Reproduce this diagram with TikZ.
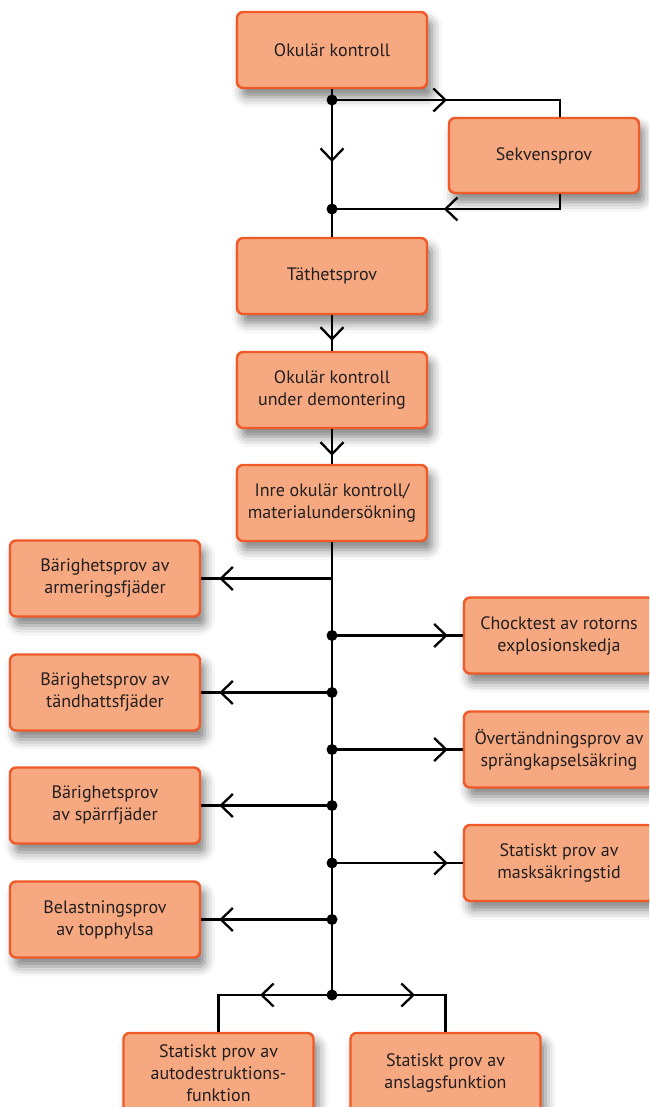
\documentclass[tikz,border=0pt]{standalone}
\usepackage{fontspec}
\setmainfont{PT Sans}
\usetikzlibrary{arrows.meta,decorations.markings,shadows.blur}
\definecolor{boxfill}{RGB}{246,168,128}
\definecolor{boxline}{RGB}{239,90,40}
\definecolor{ink}{RGB}{35,31,32}
\tikzset{
 box/.style={rectangle, rounded corners=6pt, draw=boxline, line width=2.4pt, fill=boxfill,
   minimum width=190pt, minimum height=76pt, align=center, text=ink,
   font=\fontsize{18}{22}\selectfont, inner sep=2pt,
   blur shadow={shadow xshift=5pt, shadow yshift=-9pt, shadow blur radius=10pt, shadow opacity=50}},
 conn/.style={line width=2.3pt, black},
 dot/.style={circle, fill=black, inner sep=0pt, minimum size=11pt},
 midarrow/.style={postaction={decorate}, decoration={markings,
   mark=at position #1 with {\arrow{Straight Barb[length=12pt,width=23pt,line width=2.3pt]}}}},
}
\begin{document}
\begin{tikzpicture}[x=1pt,y=-1pt]
\useasboundingbox (0,0) rectangle (649,1107);
\clip (0,0) rectangle (649,1107);
% boxes
\node[box] (ok) at (332,50) {Okulär kontroll};
\node[box, minimum height=75pt] (sek) at (544,155.5) {Sekvensprov};
\node[box] (tat) at (332,276) {Täthetsprov};
\node[box] (dem) at (332,390) {Okulär kontroll\\under demontering};
\node[box] (inre) at (332,503) {Inre okulär kontroll/\\materialundersökning};
\node[box] (L1) at (105,578.5) {Bärighetsprov av\\armeringsfjäder};
\node[box] (L2) at (105,692.5) {Bärighetsprov av\\tändhattsfjäder};
\node[box] (L3) at (105,805.5) {Bärighetsprov\\av spärrfjäder};
\node[box] (L4) at (105,919.5) {Belastningsprov\\av topphylsa};
\node[box] (R1) at (559,635.5) {Chocktest av rotorns\\explosionskedja};
\node[box] (R2) at (559,749.5) {Övertändningsprov av\\sprängkapselsäkring};
\node[box] (R3) at (559,863) {Statiskt prov av\\masksäkringstid};
\node[box, minimum height=80pt] (B1) at (218.5,1073) {Statiskt prov av\\autodestruktions-\\funktion};
\node[box, minimum height=80pt] (B2) at (445.5,1073) {Statiskt prov av\\anslagsfunktion};
% junctions
\coordinate (j1) at (332,100);
\coordinate (j2) at (332,209);
\coordinate (c1) at (560,100);
\coordinate (c2) at (560,209);
\coordinate (jb) at (332,995);
% top part
\draw[conn] (ok.south) -- (j1);
\draw[conn, midarrow=62pt] (j1) -- (j2);
\draw[conn] (j2) -- (tat.north);
\draw[conn, midarrow=115pt] (j1) -- (c1) -- (c1 |- sek.north);
\draw[conn, midarrow=131pt] (c2 |- sek.south) -- (c2) -- (j2);
\draw[conn, midarrow=-10pt] (tat.south) -- (dem.north);
\draw[conn, midarrow=-8pt] (dem.south) -- (inre.north);
% trunk
\draw[conn] (inre.south) -- (jb);
% left branches
\draw[conn, midarrow=-18pt] (inre.south |- L1.east) -- (L1.east);
\draw[conn, midarrow=-18pt] (inre.south |- L2.east) -- (L2.east);
\draw[conn, midarrow=-18pt] (inre.south |- L3.east) -- (L3.east);
\draw[conn, midarrow=-18pt] (inre.south |- L4.east) -- (L4.east);
% right branches
\draw[conn, midarrow=-15pt] (inre.south |- R1.west) -- (R1.west);
\draw[conn, midarrow=-15pt] (inre.south |- R2.west) -- (R2.west);
\draw[conn, midarrow=-15pt] (inre.south |- R3.west) -- (R3.west);
% bottom
\draw[conn, midarrow=72pt] (jb) -- (jb -| B1.north) -- (B1.north);
\draw[conn, midarrow=83pt] (jb) -- (jb -| B2.north) -- (B2.north);
% dots
\node[dot] (d1) at (j1) {};
\node[dot] (d2) at (j2) {};
\node[dot] (d3) at (inre.south |- R1.west) {};
\node[dot] (d4) at (inre.south |- L2.east) {};
\node[dot] (d5) at (inre.south |- R2.west) {};
\node[dot] (d6) at (inre.south |- L3.east) {};
\node[dot] (d7) at (inre.south |- R3.west) {};
\node[dot] (d8) at (inre.south |- L4.east) {};
\node[dot] (d9) at (jb) {};
\end{tikzpicture}
\end{document}
